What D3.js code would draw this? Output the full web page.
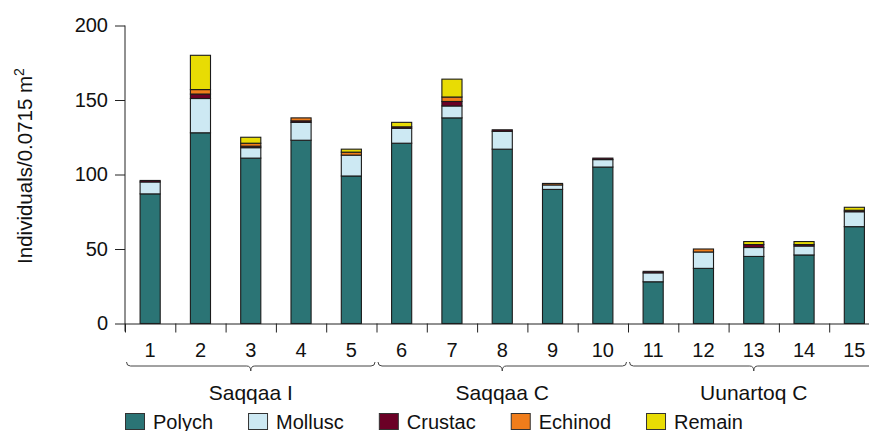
<!DOCTYPE html>
<html>
<head>
<meta charset="utf-8">
<script src="https://cdn.jsdelivr.net/npm/d3@7/dist/d3.min.js"></script>
<style>
  html, body { margin: 0; padding: 0; background: #fff; }
  svg { display: block; font-family: "Liberation Sans", Arial, Helvetica, sans-serif; }
</style>
</head>
<body>
<svg id="chart" width="869" height="431"></svg>
<script>
// Station labels and the site each block of five stations belongs to
const categories = ["1","2","3","4","5","6","7","8","9","10","11","12","13","14","15"];
const groupNames = ["Saqqaa I", "Saqqaa C", "Uunartoq C"];
const groupFirst = ["1", "6", "11"];
const groupLast  = ["5", "10", "15"];

// Individuals per 0.0715 m² by taxon group
const polych  = [87, 128, 111, 123, 99, 121, 138, 117, 90, 105, 28, 37, 45, 46, 65];
const mollusc = [8, 23, 7, 12, 14, 10, 8, 12, 3, 5, 6, 11, 6, 6, 10];
const crustac = [1, 3, 1, 1, 0, 1, 3, 1, 0, 1, 1, 0, 2, 1, 1];
const echinod = [0, 3, 2, 2, 2, 0, 3, 0, 1, 0, 0, 2, 0, 0, 0];
const remain  = [0, 23, 4, 0, 2, 3, 12, 0, 0, 0, 0, 0, 2, 2, 2];

const seriesNames = ["Polych", "Mollusc", "Crustac", "Echinod", "Remain"];
const yTicks = [0, 50, 100, 150, 200];

const colors = {
  Polych: "#2b7475",
  Mollusc: "#cde9f3",
  Crustac: "#6b0026",
  Echinod: "#f07d1b",
  Remain: "#e8dc04"
};

const seriesValues = { Polych: polych, Mollusc: mollusc, Crustac: crustac, Echinod: echinod, Remain: remain };
const table = categories.map((c, i) => {
  const row = { cat: c };
  seriesNames.forEach(s => { row[s] = seriesValues[s][i]; });
  return row;
});

const svg = d3.select("#chart");

const plotLeft = 125, plotRight = 879.5, plotTop = 25.5, plotBottom = 323.5;

const x = d3.scaleBand().domain(categories).range([plotLeft, plotRight])
  .paddingInner(0.6).paddingOuter(0.3);
const slot = d3.scaleLinear().domain([0, categories.length]).range([plotLeft, plotRight]);
const y = d3.scaleLinear().domain([0, 200]).range([plotBottom, plotTop]);

// stacked bars
const stacked = d3.stack().keys(seriesNames)(table);
svg.append("g").selectAll("g")
  .data(stacked)
  .join("g")
    .attr("fill", d => colors[d.key])
  .selectAll("rect")
  .data(d => d.filter(p => p[1] > p[0]))
  .join("rect")
    .attr("x", d => x(d.data.cat))
    .attr("width", x.bandwidth())
    .attr("y", d => y(d[1]))
    .attr("height", d => y(d[0]) - y(d[1]))
    .attr("stroke", "#1b1b1b")
    .attr("stroke-width", 1.1);

// y axis
const yAxis = svg.append("g")
  .attr("transform", `translate(${plotLeft},0)`)
  .call(d3.axisLeft(y).tickValues(yTicks).tickSize(10).tickPadding(7))
  .call(g => g.select(".domain").remove());
yAxis.selectAll("text").attr("font-size", 20).attr("fill", "#111").attr("font-family", null);
yAxis.selectAll("line").attr("stroke", "#222");
svg.append("line")
  .attr("x1", plotLeft).attr("x2", plotLeft)
  .attr("y1", y(200)).attr("y2", y(0) + 8)
  .attr("stroke", "#222");

// x axis line with ticks between stations
const xSlots = svg.append("g")
  .attr("transform", `translate(0,${plotBottom})`)
  .call(d3.axisBottom(slot).tickValues(d3.range(categories.length + 1)).tickFormat("").tickSize(9).tickSizeOuter(0));
xSlots.selectAll("line, path").attr("stroke", "#222");

// station numbers
const xAxis = svg.append("g")
  .attr("transform", `translate(0,${plotBottom})`)
  .call(d3.axisBottom(x).tickSize(0).tickPadding(19))
  .call(g => g.select(".domain").remove());
xAxis.selectAll("text").attr("font-size", 20).attr("fill", "#111").attr("font-family", null);

// braces and site names
const braceY = 366;
groupNames.forEach((name, gi) => {
  const i0 = categories.indexOf(groupFirst[gi]);
  const i1 = categories.indexOf(groupLast[gi]);
  const x0 = slot(i0) + 1.5, x1 = slot(i1 + 1) - 1.5;
  const cx = (slot(i0) + slot(i1 + 1)) / 2;
  const p = d3.path();
  p.moveTo(x0, braceY - 4);
  p.quadraticCurveTo(x0, braceY, x0 + 4, braceY);
  p.lineTo(cx - 4, braceY);
  p.quadraticCurveTo(cx, braceY, cx, braceY + 5);
  p.quadraticCurveTo(cx, braceY, cx + 4, braceY);
  p.lineTo(x1 - 4, braceY);
  p.quadraticCurveTo(x1, braceY, x1, braceY - 4);
  svg.append("path").attr("d", p.toString())
    .attr("fill", "none").attr("stroke", "#444").attr("stroke-width", 1);
  svg.append("text")
    .attr("x", cx).attr("y", 400)
    .attr("text-anchor", "middle")
    .attr("font-size", 21).attr("fill", "#111")
    .text(name);
});

// y axis title with a raised exponent
const yTitle = svg.append("text")
  .attr("transform", `translate(32,166) rotate(-90)`)
  .attr("text-anchor", "middle")
  .attr("font-size", 20.5).attr("fill", "#111");
yTitle.append("tspan").text("Individuals/0.0715 m");
yTitle.append("tspan").attr("dy", -8).attr("font-size", 14).text("2");

// legend
let lx = 125;
seriesNames.forEach(s => {
  const g = svg.append("g").attr("transform", `translate(${lx},0)`);
  g.append("rect").attr("x", 0.5).attr("y", 413.5).attr("width", 19).attr("height", 16)
    .attr("fill", colors[s]).attr("stroke", "#333");
  const t = g.append("text").attr("x", 28).attr("y", 428.5)
    .attr("font-size", 20).attr("fill", "#111").text(s);
  lx += 28 + t.node().getComputedTextLength() + 35;
});
</script>
</body>
</html>
